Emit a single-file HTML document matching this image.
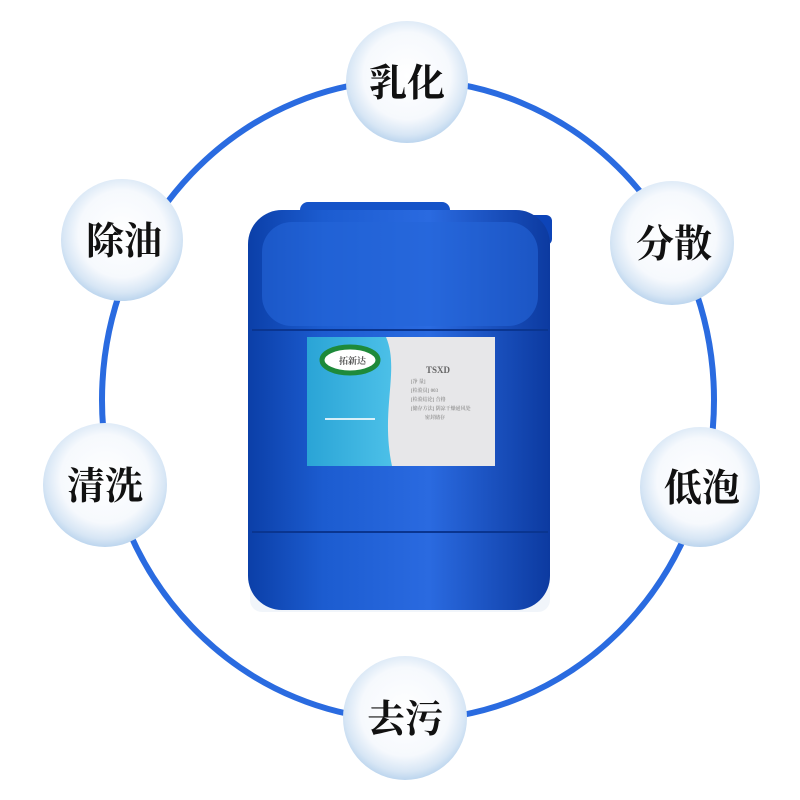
<!DOCTYPE html>
<html><head><meta charset="utf-8"><style>
html,body{margin:0;padding:0;background:#fff;}
svg{display:block}
text{font-family:"Liberation Serif","Noto Serif CJK SC",serif;font-weight:bold;}
</style></head><body>
<svg width="800" height="800" viewBox="0 0 800 800" xmlns="http://www.w3.org/2000/svg">
<defs>
<radialGradient id="bub" cx="50%" cy="45%" r="55%">
<stop offset="0" stop-color="#ffffff"/>
<stop offset="0.65" stop-color="#f6f9fd"/>
<stop offset="0.88" stop-color="#d7e6f5"/>
<stop offset="1" stop-color="#bcd5ee"/>
</radialGradient>
<linearGradient id="body" x1="0" y1="0" x2="1" y2="0">
<stop offset="0" stop-color="#0b3fa8"/>
<stop offset="0.25" stop-color="#1c5cd0"/>
<stop offset="0.6" stop-color="#2a6ae0"/>
<stop offset="1" stop-color="#0c3aa0"/>
</linearGradient>
<linearGradient id="lab" x1="0" y1="0" x2="1" y2="0">
<stop offset="0" stop-color="#2aa4d6"/><stop offset="1" stop-color="#4cc0e8"/>
</linearGradient>
</defs>
<ellipse cx="408" cy="400" rx="306" ry="320" fill="none" stroke="#2a6be0" stroke-width="6"/>
<rect x="250" y="570" width="300" height="42" rx="12" fill="#e8eef6" opacity="0.6"/>
<rect x="500" y="215" width="52" height="30" rx="6" fill="#0d44b8"/>
<rect x="300" y="202" width="150" height="25" rx="8" fill="#1553c8"/>
<rect x="248" y="210" width="302" height="400" rx="34" fill="url(#body)"/>
<rect x="262" y="222" width="276" height="104" rx="30" fill="#2566d8" opacity="0.6"/>
<line x1="252" y1="330" x2="548" y2="330" stroke="#0a3590" stroke-width="2"/>
<line x1="252" y1="532" x2="548" y2="532" stroke="#0a3590" stroke-width="2"/>
<rect x="307" y="337" width="188" height="129" fill="#e7e7e9"/>
<path d="M307 337 H386 C400 370 380 410 392 466 H307 Z" fill="url(#lab)"/>
<ellipse cx="350" cy="360" rx="28" ry="13" fill="#fff" stroke="#1e8a3a" stroke-width="5"/>
<text x="339" y="364" font-size="9" fill="#555">拓新达</text>
<text x="426" y="373" font-size="9" fill="#666" font-weight="normal">TSXD</text>
<g fill="#999" font-size="5" font-weight="normal"><text x="411" y="383">[净 量]</text><text x="411" y="392">[检验员] 003</text><text x="411" y="401">[检验结论] 合格</text><text x="411" y="410">[储存方法] 阴凉干燥通风处</text><text x="425" y="419">密封储存</text></g>
<rect x="325" y="418" width="50" height="2" fill="#fff" opacity="0.8"/>
<g font-size="38" fill="#111" text-anchor="middle">
<circle cx="407" cy="82" r="61" fill="url(#bub)"/><text x="407" y="96">乳化</text>
<circle cx="122" cy="240" r="61" fill="url(#bub)"/><text x="124" y="254">除油</text>
<circle cx="672" cy="243" r="62" fill="url(#bub)"/><text x="674" y="257">分散</text>
<circle cx="105" cy="485" r="62" fill="url(#bub)"/><text x="105" y="499">清洗</text>
<circle cx="700" cy="487" r="60" fill="url(#bub)"/><text x="702" y="501">低泡</text>
<circle cx="405" cy="718" r="62" fill="url(#bub)"/><text x="405" y="732">去污</text>
</g>
</svg>
</body></html>
